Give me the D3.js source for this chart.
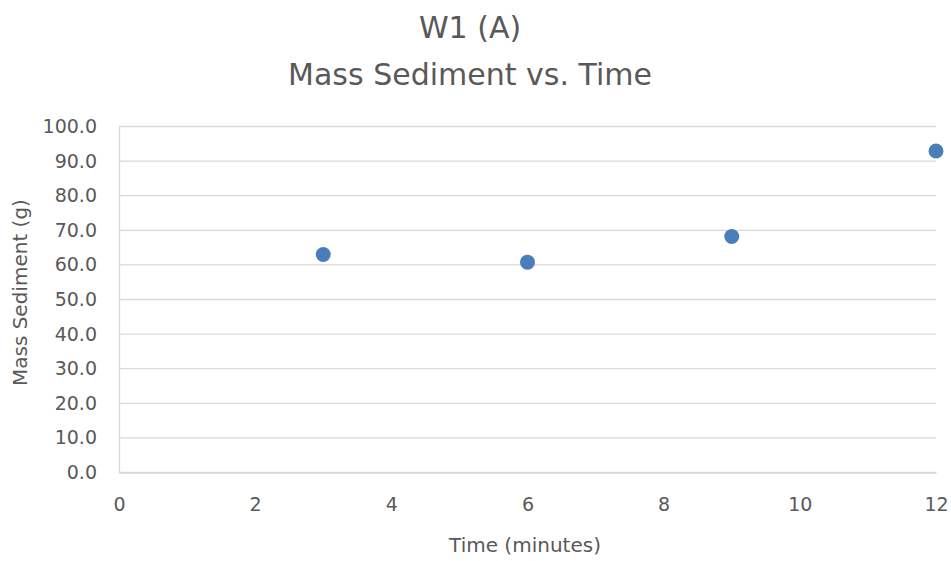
<!DOCTYPE html>
<html>
<head>
<meta charset="utf-8">
<script src="https://cdn.jsdelivr.net/npm/d3@7"></script>
<style>
  html, body { margin: 0; padding: 0; background: #ffffff; }
  svg { display: block; font-family: "DejaVu Sans", sans-serif; }
</style>
</head>
<body>
<svg id="chart" width="951" height="561"></svg>
<script>
// Sample times (minutes) and measured sediment mass (g)
const times = [3, 6, 9, 12];
const masses = [63.0, 60.8, 68.2, 92.9];
const xTicks = [0, 2, 4, 6, 8, 10, 12];
const yTicks = [0, 10, 20, 30, 40, 50, 60, 70, 80, 90, 100];
const titleLines = ["W1 (A)", "Mass Sediment vs. Time"];
const xLabel = "Time (minutes)";
const yLabel = "Mass Sediment (g)";

const svg = d3.select("#chart");
const margin = { left: 119, right: 15, top: 126.5, bottom: 88.5 };
const W = 951, H = 561;
const font = "'DejaVu Sans', sans-serif";

const x = d3.scaleLinear().domain([0, 12]).range([margin.left, W - margin.right]);
const y = d3.scaleLinear().domain([0, 100]).range([H - margin.bottom, margin.top]);

const textColor = "#595959";
const gridColor = "#d9d9d9";

// Horizontal gridlines
svg.append("g")
  .selectAll("line")
  .data(yTicks)
  .join("line")
  .attr("x1", x(0)).attr("x2", x(12))
  .attr("y1", d => y(d)).attr("y2", d => y(d))
  .attr("stroke", gridColor).attr("stroke-width", 1.3);

// Y axis
const yAxis = svg.append("g")
  .attr("transform", `translate(${x(0)},0)`)
  .call(d3.axisLeft(y).tickValues(yTicks).tickFormat(d3.format(".1f")).tickSize(0).tickPadding(22));
yAxis.select(".domain").attr("stroke", gridColor).attr("stroke-width", 1.3);
yAxis.selectAll("text").attr("fill", textColor).attr("font-size", 19).attr("font-family", font);

// X axis
const xAxis = svg.append("g")
  .attr("transform", `translate(0,${y(0)})`)
  .call(d3.axisBottom(x).tickValues(xTicks).tickFormat(d3.format("d")).tickSize(0).tickPadding(25));
xAxis.select(".domain").attr("stroke", gridColor).attr("stroke-width", 1.3);
xAxis.selectAll("text").attr("fill", textColor).attr("font-size", 19).attr("font-family", font);

// Data points
svg.append("g")
  .selectAll("circle")
  .data(times.map((t, i) => ({ t, m: masses[i] })))
  .join("circle")
  .attr("cx", d => x(d.t))
  .attr("cy", d => y(d.m))
  .attr("r", 7.5)
  .attr("fill", "#4a7ebb");

// Title
svg.append("g")
  .selectAll("text")
  .data(titleLines)
  .join("text")
  .attr("x", 470)
  .attr("y", (d, i) => 38 + i * 47)
  .attr("text-anchor", "middle")
  .attr("fill", textColor)
  .attr("font-size", 30)
  .text(d => d);

// Axis titles
svg.append("text")
  .attr("x", 525).attr("y", 552)
  .attr("text-anchor", "middle")
  .attr("fill", textColor).attr("font-size", 20)
  .text(xLabel);

svg.append("text")
  .attr("transform", `translate(27,${y(52)}) rotate(-90)`)
  .attr("text-anchor", "middle")
  .attr("fill", textColor).attr("font-size", 20)
  .text(yLabel);
</script>
</body>
</html>
